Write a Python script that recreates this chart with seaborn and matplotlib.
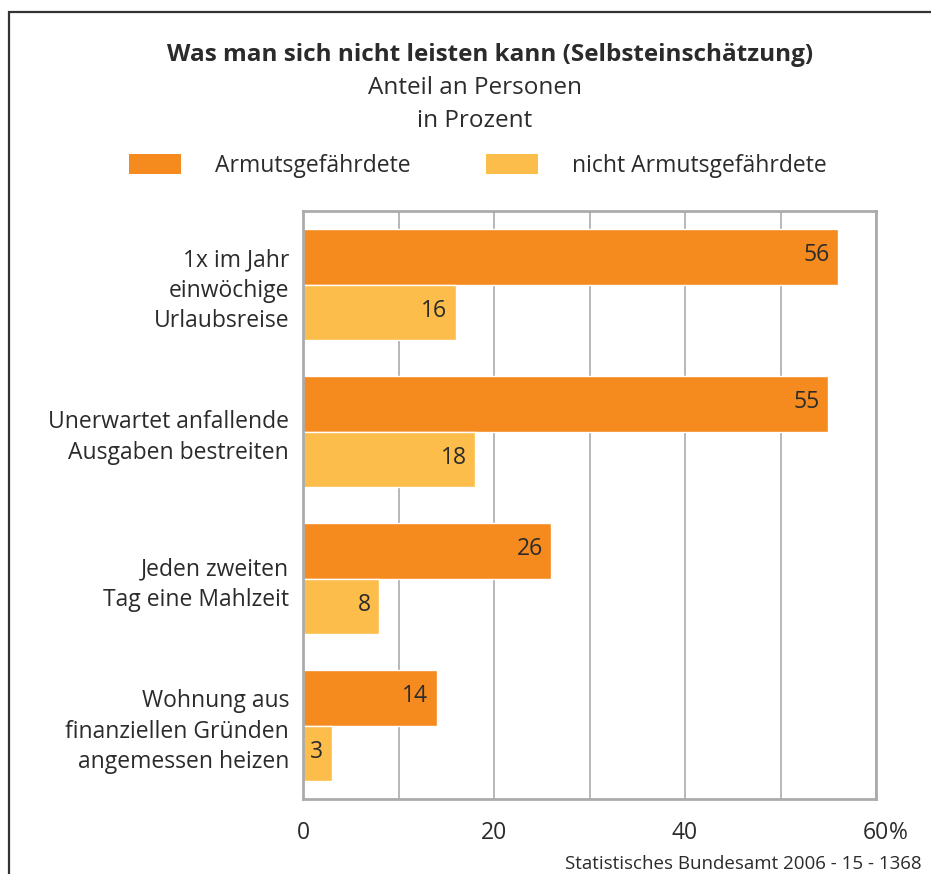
import pandas as pd
import seaborn as sns
from matplotlib import pyplot as plt
from matplotlib.patches import Rectangle, Patch

sns.set_style("white")
plt.rcParams['font.family'] = ['Open Sans', 'DejaVu Sans']

# data
categories = ["1x im Jahr\neinwöchige\nUrlaubsreise",
              "Unerwartet anfallende\nAusgaben bestreiten",
              "Jeden zweiten\nTag eine Mahlzeit",
              "Wohnung aus\nfinanziellen Gründen\nangemessen heizen"]
groups = ["Armutsgefährdete", "nicht Armutsgefährdete"]
armut = [56, 55, 26, 14]
nicht_armut = [16, 18, 8, 3]
xticks = [0, 20, 40, 60]

colors = ["#F58A1F", "#FDBD4A"]
textcol = "#2b2b2b"
gridcol = "#ABABAB"
fs = 16.5

df = pd.DataFrame({
    'kategorie': categories * 2,
    'gruppe': [groups[0]] * 4 + [groups[1]] * 4,
    'wert': armut + nicht_armut,
})

fig = plt.figure(figsize=(9.31, 8.74), dpi=100)
ax = fig.add_axes([303/931, 1 - 799/874, (876 - 303)/931, (799 - 211)/874])

sns.barplot(data=df, y='kategorie', x='wert', hue='gruppe', palette=colors,
            orient='h', width=0.755, gap=0, legend=False, saturation=1, ax=ax)

# value labels inside the bar ends
for cont in ax.containers:
    for bar in cont:
        w = bar.get_width()
        ax.annotate(f"{w:.0f}", xy=(w, bar.get_y() + bar.get_height() / 2),
                    xytext=(-6, 1), textcoords='offset points',
                    ha='right', va='center', fontsize=fs, color=textcol)

ax.set_xlim(0, 60)
ax.set_xticks(xticks)
ax.set_xticklabels([str(t) for t in xticks])
ax.annotate("%", xy=(60, 0), xycoords=('data', 'axes fraction'),
            xytext=(9.5, -15.5), textcoords='offset points',
            ha='left', va='top', fontsize=fs, color=textcol)
ax.set_xticks(range(10, 60, 10), minor=True)
ax.xaxis.grid(True, which='both', color=gridcol, lw=1.2)
ax.set_axisbelow(True)
ax.tick_params(axis='x', length=0, pad=15.5, labelsize=fs, labelcolor=textcol)
ax.tick_params(axis='y', length=0, pad=10, labelsize=fs, labelcolor=textcol)
for lab in ax.get_yticklabels():
    lab.set_linespacing(1.35)
    lab.set_multialignment('right')
ax.set_xlabel("")
ax.set_ylabel("")
for s in ax.spines.values():
    s.set_visible(True)
    s.set_color(gridcol)
    s.set_linewidth(2)

# titles
fig.text(490/931, 1 - 55/874, "Was man sich nicht leisten kann (Selbsteinschätzung)",
         ha='center', va='center', fontsize=17.5, fontweight='bold', color=textcol)
fig.text(475/931, 1 - 88/874, "Anteil an Personen", ha='center', va='center',
         fontsize=17.5, color=textcol)
fig.text(475/931, 1 - 121/874, "in Prozent", ha='center', va='center',
         fontsize=17.5, color=textcol)

# legend
handles = [Patch(facecolor=c, edgecolor='none') for c in colors]
fig.legend(handles, groups, loc='center left', bbox_to_anchor=(129/931, 1 - 166/874),
           ncol=2, frameon=False, fontsize=fs, handlelength=2.27, handleheight=1.0,
           handletextpad=1.48, columnspacing=3.3, borderpad=0, borderaxespad=0,
           labelcolor=textcol)

# source line
fig.text(565/931, 1 - 864/874, "Statistisches Bundesamt 2006 - 15 - 1368",
         ha='left', va='center', fontsize=13.5, color=textcol)

# outer frame (runs off the right and bottom edge)
fig.patches.append(Rectangle((9/931, -0.1), 1.0, 1 - 12/874 + 0.1,
                             transform=fig.transFigure, fill=False,
                             edgecolor='#333333', lw=1.6))

fig.savefig('out.png', dpi=100)
